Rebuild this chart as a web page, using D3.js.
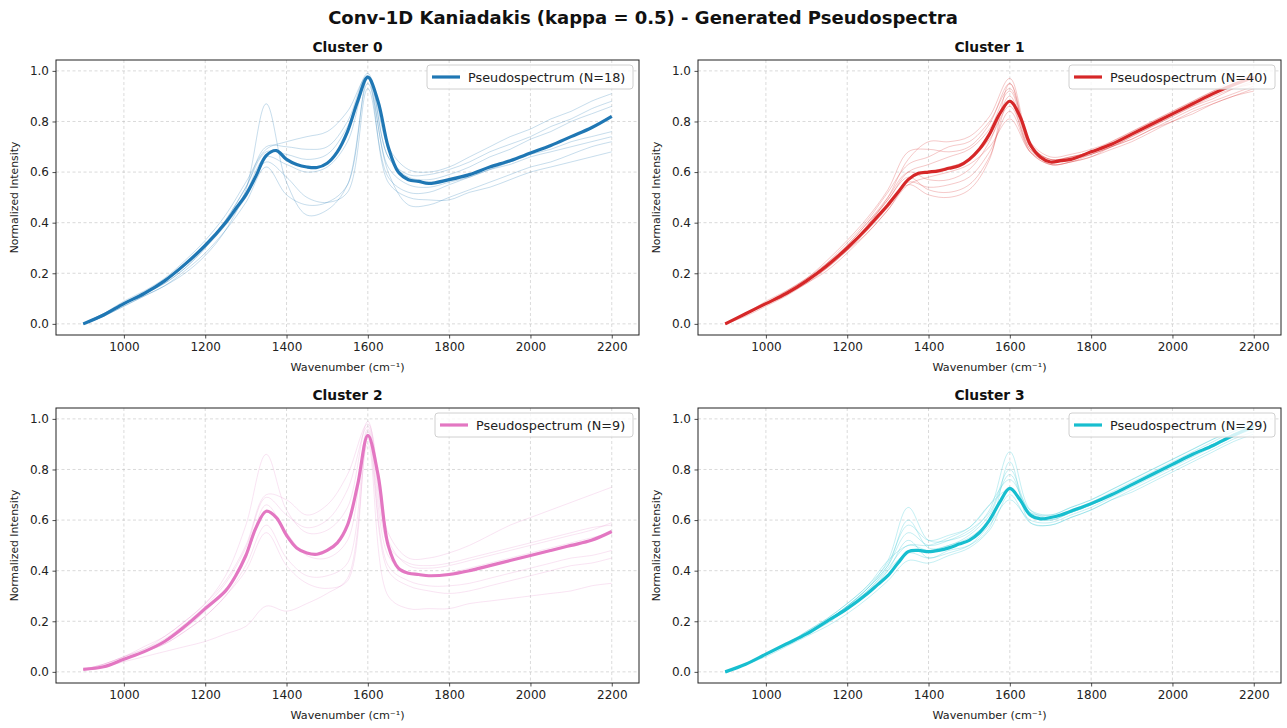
<!DOCTYPE html>
<html lang="en">
<head>
    <meta charset="UTF-8">
    <title>Generated Pseudospectra</title>
    <style>
        body { margin: 0; background: #fff; }
        text { font-family: "DejaVu Sans", sans-serif; fill: #222; }
    </style>
</head>
<body>
<svg id="chart" width="1287" height="728"></svg>
<script src="https://d3js.org/d3.v7.min.js"></script>

<script>
    /* global d3 */

    // wavenumber grid for the mean curves (denser round the peaks)
    const meanX = [900, 950, 1000, 1050, 1100, 1150, 1200, 1250, 1275, 1300, 1325, 1350, 1375, 1400, 1425, 1450,
        1475, 1500, 1525, 1550, 1575, 1600, 1625, 1650, 1675, 1700, 1725, 1750, 1800, 1850, 1900, 1950, 2000,
        2050, 2100, 2150, 2200];
    // grid for the single faint spectra
    const sampleX = [900, 950, 1000, 1050, 1100, 1150, 1200, 1250, 1300, 1350, 1400, 1450, 1500, 1550, 1600,
        1650, 1700, 1750, 1800, 1850, 1900, 1950, 2000, 2050, 2100, 2150, 2200];

    const xTicks = [1000, 1200, 1400, 1600, 1800, 2000, 2200];
    const yTicks = [0, 0.2, 0.4, 0.6, 0.8, 1.0];

    const clusterNames = ["Cluster 0", "Cluster 1", "Cluster 2", "Cluster 3"];
    const clusterCounts = [18, 40, 9, 29];
    const clusterColors = ["#1f77b4", "#d62728", "#e377c2", "#17becf"];

    const mean0 = [0, 0.035, 0.08, 0.12, 0.17, 0.235, 0.31, 0.40, 0.455, 0.51, 0.585, 0.665, 0.685, 0.65, 0.63,
        0.62, 0.618, 0.635, 0.68, 0.76, 0.88, 0.975, 0.88, 0.70, 0.60, 0.57, 0.563, 0.555, 0.57, 0.59, 0.62,
        0.645, 0.675, 0.705, 0.74, 0.775, 0.82];
    const mean1 = [0, 0.04, 0.08, 0.12, 0.17, 0.23, 0.30, 0.38, 0.425, 0.47, 0.52, 0.57, 0.595, 0.60, 0.605,
        0.615, 0.625, 0.65, 0.69, 0.75, 0.83, 0.88, 0.82, 0.71, 0.66, 0.64, 0.645, 0.65, 0.68, 0.71, 0.75,
        0.79, 0.83, 0.87, 0.91, 0.945, 0.975];
    const mean2 = [0.01, 0.02, 0.05, 0.08, 0.12, 0.18, 0.25, 0.32, 0.38, 0.46, 0.57, 0.635, 0.61, 0.54, 0.49,
        0.47, 0.465, 0.48, 0.51, 0.58, 0.74, 0.935, 0.78, 0.50, 0.41, 0.39, 0.385, 0.38, 0.385, 0.40, 0.42,
        0.44, 0.46, 0.48, 0.50, 0.52, 0.555];
    const mean3 = [0, 0.03, 0.07, 0.11, 0.15, 0.20, 0.25, 0.31, 0.345, 0.38, 0.43, 0.475, 0.48, 0.475, 0.48,
        0.49, 0.505, 0.52, 0.55, 0.60, 0.67, 0.725, 0.68, 0.62, 0.605, 0.61, 0.62, 0.635, 0.665, 0.70, 0.74,
        0.78, 0.82, 0.86, 0.895, 0.935, 0.97];

    const samples0 = [
        [0, 0.03, 0.07, 0.11, 0.15, 0.20, 0.27, 0.37, 0.53, 0.87, 0.56, 0.43, 0.45, 0.55, 0.95, 0.60, 0.47, 0.47, 0.50, 0.53, 0.56, 0.59, 0.62, 0.64, 0.67, 0.70, 0.72],
        [0, 0.04, 0.09, 0.13, 0.18, 0.25, 0.33, 0.43, 0.56, 0.69, 0.72, 0.74, 0.76, 0.84, 0.98, 0.70, 0.61, 0.60, 0.62, 0.66, 0.70, 0.74, 0.77, 0.81, 0.84, 0.88, 0.91],
        [0, 0.04, 0.08, 0.12, 0.17, 0.24, 0.31, 0.41, 0.54, 0.70, 0.70, 0.69, 0.70, 0.80, 0.99, 0.66, 0.59, 0.59, 0.61, 0.64, 0.68, 0.71, 0.74, 0.78, 0.81, 0.85, 0.88],
        [0, 0.03, 0.07, 0.11, 0.15, 0.21, 0.28, 0.37, 0.48, 0.62, 0.51, 0.47, 0.48, 0.55, 0.97, 0.56, 0.50, 0.49, 0.49, 0.52, 0.54, 0.57, 0.60, 0.62, 0.64, 0.66, 0.68],
        [0, 0.04, 0.08, 0.12, 0.16, 0.22, 0.30, 0.40, 0.52, 0.66, 0.63, 0.60, 0.62, 0.72, 0.97, 0.62, 0.55, 0.54, 0.56, 0.58, 0.61, 0.63, 0.66, 0.68, 0.70, 0.72, 0.74],
        [0, 0.04, 0.08, 0.12, 0.17, 0.23, 0.31, 0.41, 0.54, 0.68, 0.67, 0.65, 0.67, 0.78, 0.98, 0.66, 0.58, 0.57, 0.59, 0.62, 0.66, 0.69, 0.73, 0.76, 0.80, 0.83, 0.86],
        [0, 0.03, 0.08, 0.12, 0.16, 0.22, 0.30, 0.39, 0.50, 0.64, 0.58, 0.50, 0.48, 0.52, 0.93, 0.58, 0.52, 0.52, 0.55, 0.58, 0.61, 0.64, 0.67, 0.69, 0.72, 0.74, 0.76]
    ];
    const samples1 = [
        [0, 0.04, 0.08, 0.12, 0.17, 0.23, 0.30, 0.39, 0.50, 0.65, 0.72, 0.72, 0.74, 0.82, 0.97, 0.72, 0.66, 0.67, 0.69, 0.72, 0.76, 0.80, 0.84, 0.88, 0.92, 0.96, 0.98],
        [0, 0.04, 0.08, 0.12, 0.17, 0.22, 0.29, 0.36, 0.45, 0.55, 0.51, 0.50, 0.53, 0.65, 0.95, 0.70, 0.63, 0.64, 0.66, 0.70, 0.73, 0.77, 0.81, 0.85, 0.88, 0.91, 0.94],
        [0, 0.04, 0.08, 0.13, 0.18, 0.24, 0.31, 0.40, 0.49, 0.60, 0.63, 0.66, 0.69, 0.77, 0.92, 0.70, 0.65, 0.66, 0.68, 0.71, 0.75, 0.79, 0.83, 0.87, 0.91, 0.94, 0.97],
        [0, 0.03, 0.07, 0.11, 0.16, 0.21, 0.28, 0.36, 0.45, 0.55, 0.58, 0.60, 0.63, 0.70, 0.81, 0.68, 0.64, 0.65, 0.67, 0.70, 0.74, 0.78, 0.82, 0.86, 0.89, 0.93, 0.96],
        [0, 0.04, 0.08, 0.12, 0.17, 0.23, 0.31, 0.40, 0.50, 0.60, 0.57, 0.57, 0.61, 0.72, 0.90, 0.69, 0.64, 0.65, 0.68, 0.71, 0.75, 0.79, 0.83, 0.87, 0.91, 0.95, 0.98],
        [0, 0.04, 0.08, 0.12, 0.17, 0.23, 0.30, 0.38, 0.47, 0.57, 0.60, 0.62, 0.65, 0.73, 0.86, 0.69, 0.64, 0.65, 0.67, 0.70, 0.73, 0.77, 0.80, 0.84, 0.87, 0.90, 0.92],
        [0, 0.04, 0.09, 0.13, 0.18, 0.25, 0.33, 0.42, 0.53, 0.68, 0.69, 0.68, 0.70, 0.79, 0.95, 0.71, 0.65, 0.66, 0.68, 0.72, 0.76, 0.80, 0.84, 0.88, 0.92, 0.95, 0.99],
        [0, 0.04, 0.08, 0.12, 0.16, 0.22, 0.29, 0.37, 0.46, 0.56, 0.54, 0.55, 0.58, 0.68, 0.84, 0.68, 0.63, 0.64, 0.66, 0.69, 0.72, 0.76, 0.80, 0.83, 0.87, 0.90, 0.93],
        [0, 0.04, 0.08, 0.12, 0.17, 0.24, 0.32, 0.41, 0.52, 0.63, 0.66, 0.70, 0.72, 0.80, 0.93, 0.71, 0.65, 0.66, 0.68, 0.71, 0.75, 0.79, 0.83, 0.87, 0.91, 0.95, 0.97],
        [0, 0.04, 0.08, 0.12, 0.17, 0.23, 0.30, 0.39, 0.49, 0.58, 0.53, 0.52, 0.55, 0.66, 0.88, 0.68, 0.63, 0.64, 0.67, 0.70, 0.74, 0.78, 0.82, 0.86, 0.90, 0.93, 0.95]
    ];
    const samples2 = [
        [0.01, 0.02, 0.04, 0.06, 0.08, 0.10, 0.12, 0.15, 0.18, 0.26, 0.24, 0.27, 0.31, 0.37, 0.90, 0.30, 0.25, 0.25, 0.25, 0.27, 0.28, 0.29, 0.30, 0.31, 0.32, 0.34, 0.35],
        [0.01, 0.03, 0.06, 0.09, 0.14, 0.20, 0.27, 0.38, 0.58, 0.86, 0.64, 0.55, 0.56, 0.65, 0.99, 0.52, 0.42, 0.41, 0.42, 0.44, 0.46, 0.48, 0.50, 0.52, 0.54, 0.56, 0.59],
        [0.01, 0.03, 0.06, 0.10, 0.14, 0.20, 0.27, 0.36, 0.50, 0.70, 0.68, 0.62, 0.66, 0.78, 0.98, 0.55, 0.45, 0.45, 0.47, 0.50, 0.54, 0.58, 0.61, 0.64, 0.67, 0.70, 0.73],
        [0.01, 0.03, 0.06, 0.09, 0.13, 0.19, 0.26, 0.35, 0.49, 0.69, 0.62, 0.57, 0.60, 0.72, 0.97, 0.50, 0.43, 0.42, 0.43, 0.45, 0.47, 0.49, 0.51, 0.53, 0.55, 0.57, 0.58],
        [0.01, 0.02, 0.05, 0.08, 0.11, 0.16, 0.22, 0.30, 0.42, 0.58, 0.45, 0.38, 0.38, 0.43, 0.95, 0.42, 0.36, 0.34, 0.34, 0.35, 0.37, 0.39, 0.41, 0.43, 0.45, 0.46, 0.48],
        [0.01, 0.02, 0.05, 0.08, 0.11, 0.16, 0.22, 0.30, 0.40, 0.55, 0.42, 0.35, 0.33, 0.36, 0.92, 0.40, 0.34, 0.32, 0.31, 0.32, 0.34, 0.36, 0.38, 0.40, 0.42, 0.43, 0.45],
        [0.01, 0.02, 0.05, 0.08, 0.12, 0.17, 0.24, 0.32, 0.45, 0.66, 0.55, 0.46, 0.45, 0.52, 0.96, 0.46, 0.39, 0.38, 0.39, 0.41, 0.43, 0.45, 0.47, 0.49, 0.51, 0.53, 0.55]
    ];
    const samples3 = [
        [0, 0.03, 0.07, 0.11, 0.15, 0.20, 0.26, 0.33, 0.44, 0.65, 0.52, 0.52, 0.55, 0.64, 0.87, 0.64, 0.61, 0.63, 0.66, 0.70, 0.74, 0.78, 0.82, 0.86, 0.90, 0.94, 0.97],
        [0, 0.03, 0.07, 0.11, 0.15, 0.20, 0.25, 0.32, 0.40, 0.47, 0.45, 0.47, 0.50, 0.58, 0.68, 0.60, 0.59, 0.62, 0.65, 0.69, 0.73, 0.77, 0.81, 0.85, 0.89, 0.93, 0.96],
        [0, 0.03, 0.07, 0.11, 0.15, 0.20, 0.26, 0.33, 0.42, 0.55, 0.50, 0.52, 0.56, 0.63, 0.80, 0.63, 0.61, 0.64, 0.67, 0.71, 0.75, 0.79, 0.83, 0.87, 0.91, 0.95, 0.98],
        [0, 0.03, 0.06, 0.10, 0.14, 0.18, 0.23, 0.29, 0.36, 0.44, 0.43, 0.46, 0.49, 0.56, 0.70, 0.59, 0.58, 0.61, 0.64, 0.68, 0.72, 0.76, 0.80, 0.84, 0.88, 0.92, 0.95],
        [0, 0.03, 0.07, 0.11, 0.16, 0.21, 0.27, 0.34, 0.43, 0.58, 0.52, 0.54, 0.57, 0.66, 0.76, 0.64, 0.62, 0.65, 0.68, 0.72, 0.76, 0.80, 0.84, 0.88, 0.92, 0.96, 0.99],
        [0, 0.03, 0.07, 0.11, 0.15, 0.20, 0.26, 0.32, 0.41, 0.50, 0.48, 0.50, 0.53, 0.60, 0.73, 0.62, 0.60, 0.63, 0.66, 0.70, 0.74, 0.78, 0.82, 0.86, 0.90, 0.93, 0.97],
        [0, 0.03, 0.07, 0.11, 0.15, 0.19, 0.25, 0.31, 0.40, 0.52, 0.45, 0.48, 0.50, 0.57, 0.83, 0.59, 0.58, 0.61, 0.64, 0.68, 0.71, 0.75, 0.79, 0.83, 0.87, 0.91, 0.94],
        [0, 0.03, 0.07, 0.11, 0.15, 0.20, 0.26, 0.33, 0.42, 0.60, 0.49, 0.50, 0.54, 0.62, 0.78, 0.62, 0.60, 0.63, 0.66, 0.70, 0.74, 0.78, 0.82, 0.86, 0.90, 0.94, 0.97],
        [0, 0.03, 0.07, 0.11, 0.16, 0.21, 0.27, 0.34, 0.44, 0.50, 0.50, 0.53, 0.57, 0.66, 0.72, 0.63, 0.62, 0.65, 0.68, 0.72, 0.76, 0.80, 0.84, 0.88, 0.92, 0.95, 0.98]
    ];

    const means = [mean0, mean1, mean2, mean3];
    const samples = [samples0, samples1, samples2, samples3];

    let svg = d3.select("#chart"),
        panelW = 583,
        panelH = 275,
        lefts = [56, 698],
        tops = [60, 408];

    svg.append("rect").attr("width", 1287).attr("height", 728).attr("fill", "#fff");

    svg.append("text")
        .attr("x", 643).attr("y", 24)
        .attr("text-anchor", "middle")
        .attr("font-size", 18).attr("font-weight", "bold")
        .style("fill", "#111")
        .text("Conv-1D Kaniadakis (kappa = 0.5) - Generated Pseudospectra");

    clusterNames.forEach(function (name, i) {
        let ox = lefts[i % 2],
            oy = tops[Math.floor(i / 2)],
            color = clusterColors[i];

        let x = d3.scaleLinear().domain([833, 2267]).range([0, panelW]),
            y = d3.scaleLinear().domain([-0.044, 1.043]).range([panelH, 0]);

        let g = svg.append("g").attr("transform", "translate(" + ox + "," + oy + ")");

        g.append("clipPath").attr("id", "clip" + i)
            .append("rect").attr("width", panelW).attr("height", panelH);

        // grid
        g.append("g").selectAll("line").data(xTicks).join("line")
            .attr("x1", d => x(d)).attr("x2", d => x(d))
            .attr("y1", 0).attr("y2", panelH)
            .attr("stroke", "#b0b0b0").attr("stroke-opacity", 0.6)
            .attr("stroke-width", 0.8).attr("stroke-dasharray", "3,2.5");
        g.append("g").selectAll("line").data(yTicks).join("line")
            .attr("x1", 0).attr("x2", panelW)
            .attr("y1", d => y(d)).attr("y2", d => y(d))
            .attr("stroke", "#b0b0b0").attr("stroke-opacity", 0.6)
            .attr("stroke-width", 0.8).attr("stroke-dasharray", "3,2.5");

        let plot = g.append("g").attr("clip-path", "url(#clip" + i + ")");

        let sampleLine = d3.line()
            .x((d, k) => x(sampleX[k]))
            .y(d => y(d))
            .curve(d3.curveCatmullRom.alpha(0.5));

        plot.selectAll(".sample").data(samples[i]).join("path")
            .attr("d", sampleLine)
            .attr("fill", "none")
            .attr("stroke", color)
            .attr("stroke-opacity", i === 2 ? 0.2 : 0.25)
            .attr("stroke-width", 1);

        let meanLine = d3.line()
            .x((d, k) => x(meanX[k]))
            .y(d => y(d))
            .curve(d3.curveCatmullRom.alpha(0.5));

        plot.append("path")
            .attr("d", meanLine(means[i]))
            .attr("fill", "none")
            .attr("stroke", color)
            .attr("stroke-width", 3.2)
            .attr("stroke-linejoin", "round");

        // axes
        let xAxis = g.append("g").attr("transform", "translate(0," + panelH + ")")
            .call(d3.axisBottom(x).tickValues(xTicks).tickFormat(d3.format("d")).tickSize(3.5).tickPadding(3.5));
        let yAxis = g.append("g")
            .call(d3.axisLeft(y).tickValues(yTicks).tickFormat(d3.format(".1f")).tickSize(3.5).tickPadding(3.5));
        [xAxis, yAxis].forEach(function (a) {
            a.select(".domain").remove();
            a.selectAll("line").attr("stroke", "#222").attr("stroke-width", 0.8);
            a.selectAll("text").attr("font-size", 12).attr("font-family", "DejaVu Sans").style("fill", "#222");
        });

        g.append("rect")
            .attr("width", panelW).attr("height", panelH)
            .attr("fill", "none").attr("stroke", "#222").attr("stroke-width", 1);

        g.append("text")
            .attr("x", panelW / 2).attr("y", -8)
            .attr("text-anchor", "middle")
            .attr("font-size", 13.8).attr("font-weight", "bold")
            .style("fill", "#111")
            .text(name);

        g.append("text")
            .attr("x", panelW / 2).attr("y", panelH + 36)
            .attr("text-anchor", "middle")
            .attr("font-size", 11.2)
            .text("Wavenumber (cm\u207B\u00B9)");

        g.append("text")
            .attr("transform", "translate(-38," + (panelH / 2) + ") rotate(-90)")
            .attr("text-anchor", "middle")
            .attr("font-size", 10.8)
            .text("Normalized Intensity");

        // legend
        let label = "Pseudospectrum (N=" + clusterCounts[i] + ")",
            legW = clusterCounts[i] < 10 ? 198 : 206,
            lg = g.append("g").attr("transform", "translate(" + (panelW - 6 - legW) + ",5)");
        lg.append("rect")
            .attr("width", legW).attr("height", 24).attr("rx", 3)
            .attr("fill", "#fff").attr("fill-opacity", 0.8)
            .attr("stroke", "#d0d0d0").attr("stroke-width", 1);
        lg.append("line")
            .attr("x1", 5).attr("x2", 33).attr("y1", 12).attr("y2", 12)
            .attr("stroke", color).attr("stroke-width", 3.2);
        lg.append("text")
            .attr("x", 41).attr("y", 16.5)
            .attr("font-size", 12.8)
            .text(label);
    });
</script>
</body>
</html>
